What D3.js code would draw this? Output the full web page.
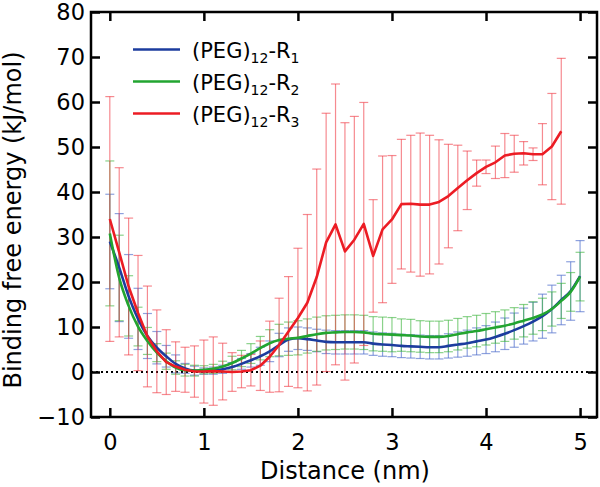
<!DOCTYPE html>
<html><head><meta charset="utf-8">
<script src="https://cdn.jsdelivr.net/npm/d3@7"></script>
<style>
html,body{margin:0;padding:0;background:#fff;}
svg{display:block;}
text{font-family:"DejaVu Sans",sans-serif;fill:#000;}
</style></head>
<body>
<svg id="chart" width="600" height="487"></svg>
<script>
// ---- data ----
const distance = [0.0,0.1,0.2,0.3,0.4,0.5,0.6,0.7,0.8,0.9,1.0,1.1,1.2,1.3,1.4,1.5,1.6,1.7,1.8,1.9,2.0,2.1,2.2,2.3,2.4,2.5,2.6,2.7,2.8,2.9,3.0,3.1,3.2,3.3,3.4,3.5,3.6,3.7,3.8,3.9,4.0,4.1,4.2,4.3,4.4,4.5,4.6,4.7,4.8,4.9,5.0];

const r1Mean = [29.0,23.2,16.8,11.8,8.0,5.4,3.5,1.8,0.8,0.3,0.2,0.3,0.6,1.1,1.8,2.6,3.5,4.6,6.0,7.2,7.5,7.3,7.0,6.7,6.6,6.6,6.6,6.6,6.3,6.1,6.0,5.8,5.7,5.6,5.5,5.5,5.8,6.1,6.4,6.8,7.2,7.8,8.5,9.3,10.2,11.2,12.4,14.0,16.0,18.0,21.3];
const r1Err  = [10.5,12.0,9.3,6.8,5.0,3.6,2.4,2.0,1.1,1.0,0.7,0.8,0.9,1.0,1.2,1.5,2.0,2.3,2.6,2.6,2.5,2.5,2.5,2.6,2.6,2.6,2.6,2.6,2.6,2.6,2.6,2.6,2.6,2.6,2.6,2.6,2.7,2.8,2.9,3.0,3.1,3.3,3.5,3.8,4.0,4.3,4.9,5.3,5.5,6.5,7.9];

const r2Mean = [30.8,20.9,14.7,10.1,6.9,4.3,2.4,1.0,0.4,0.3,0.5,0.7,1.2,2.0,3.0,4.1,5.3,6.4,7.1,7.4,7.6,8.0,8.4,8.7,8.8,8.9,8.9,8.8,8.5,8.4,8.3,8.2,8.1,7.9,7.8,7.8,8.0,8.4,8.8,9.1,9.5,9.9,10.3,10.8,11.4,12.0,12.8,14.0,15.8,17.8,21.2];
const r2Err  = [16.1,9.5,6.7,4.3,3.0,2.0,1.8,1.5,1.3,1.2,0.9,1.0,1.2,1.5,1.8,2.2,2.6,3.0,3.5,3.7,3.8,3.8,3.8,3.8,3.8,3.8,3.8,3.8,3.8,3.8,3.8,3.6,3.6,3.5,3.5,3.5,3.5,3.5,3.5,3.5,3.5,3.5,3.5,3.5,3.6,3.6,3.6,3.8,3.9,4.3,5.4];

const r3Mean = [34.0,26.6,19.0,13.1,7.9,4.6,2.2,1.2,0.5,0.1,0.1,0.2,0.1,0.0,0.1,0.4,1.4,3.4,6.0,9.0,12.0,15.4,21.1,28.8,32.8,26.8,29.4,32.9,25.8,31.7,33.9,37.3,37.4,37.2,37.2,37.8,39.1,40.9,42.6,44.2,45.6,46.6,48.1,48.5,48.6,48.4,48.4,50.1,53.5];
const r3Err  = [27.2,18.8,15.2,12.8,11.2,9.2,7.2,5.5,5.0,5.7,7.0,7.6,6.3,4.3,3.6,3.5,5.5,7.9,10.4,12.2,15.5,19.6,24.0,28.7,31.2,28.6,27.4,27.0,12.5,16.3,14.2,14.4,15.2,15.9,15.4,13.8,11.5,9.5,6.5,2.9,1.5,3.6,4.9,4.1,2.6,1.4,6.8,11.8,16.2];

const seriesNames = ["R1","R2","R3"];
const xTicks = [0,1,2,3,4,5];
const yTicks = [-10,0,10,20,30,40,50,60,70,80];

// ---- layout ----
const svg = d3.select("#chart");
const L = 91, R = 597, T = 12, B = 417;
const x = d3.scaleLinear().domain([-0.2, 5.18]).range([L, R]);
const y = d3.scaleLinear().domain([-10, 80]).range([B, T]);

const series = [
  {name:seriesNames[0], mean:r1Mean, err:r1Err, line:"#1c3c9e", bar:"rgba(80,110,205,0.65)", curve:d3.curveMonotoneX},
  {name:seriesNames[1], mean:r2Mean, err:r2Err, line:"#22a530", bar:"rgba(60,180,60,0.6)", curve:d3.curveMonotoneX},
  {name:seriesNames[2], mean:r3Mean, err:r3Err, line:"#ec1c24", bar:"rgba(240,60,70,0.6)", curve:d3.curveLinear}
];

// zero dotted line
svg.append("line")
  .attr("x1", L).attr("x2", R).attr("y1", y(0)).attr("y2", y(0))
  .attr("stroke", "#000").attr("stroke-width", 2).attr("stroke-dasharray", "2,3");

// error bars
const cap = 4.5;
series.forEach(s => {
  const g = svg.append("g").attr("stroke", s.bar).attr("stroke-width", 1.2).attr("fill","none");
  s.mean.forEach((m, i) => {
    const cx = x(distance[i]);
    const hi = y(m + s.err[i]), lo = y(m - s.err[i]);
    g.append("line").attr("x1", cx).attr("x2", cx).attr("y1", hi).attr("y2", lo);
    g.append("line").attr("x1", cx - cap).attr("x2", cx + cap).attr("y1", hi).attr("y2", hi);
    g.append("line").attr("x1", cx - cap).attr("x2", cx + cap).attr("y1", lo).attr("y2", lo);
  });
});

// lines
series.forEach(s => {
  const line = d3.line().x((d, i) => x(distance[i])).y(d => y(d)).curve(s.curve);
  svg.append("path").datum(s.mean)
    .attr("d", line).attr("fill", "none")
    .attr("stroke", s.line).attr("stroke-width", 2.6).attr("stroke-linejoin","round");
});

// axes (inward ticks on all sides)
const fs = 22.5;
const ax = (g) => { g.select(".domain").remove(); g.selectAll(".tick line").attr("stroke","#000").attr("stroke-width",2.5); };
svg.append("g").attr("transform", `translate(0,${B})`)
  .call(d3.axisBottom(x).tickValues(xTicks).tickFormat(d3.format("d")).tickSize(-9).tickPadding(17))
  .call(ax).selectAll("text").attr("font-size", fs).style("font-family","DejaVu Sans");
svg.append("g").attr("transform", `translate(0,${T})`)
  .call(d3.axisTop(x).tickValues(xTicks).tickFormat("").tickSize(-9))
  .call(ax);
svg.append("g").attr("transform", `translate(${L},0)`)
  .call(d3.axisLeft(y).tickValues(yTicks).tickFormat(d3.format("d")).tickSize(-9).tickPadding(6))
  .call(ax).selectAll("text").attr("font-size", fs).style("font-family","DejaVu Sans");
svg.append("g").attr("transform", `translate(${R},0)`)
  .call(d3.axisRight(y).tickValues(yTicks).tickFormat("").tickSize(-9))
  .call(ax);

// frame
svg.append("rect").attr("x", L).attr("y", T).attr("width", R - L).attr("height", B - T)
  .attr("fill", "none").attr("stroke", "#000").attr("stroke-width", 2.5);

// axis titles
svg.append("text").attr("x", (L + R) / 2 + 1).attr("y", 479).attr("text-anchor", "middle")
  .attr("font-size", 24).text("Distance (nm)");
svg.append("text").attr("transform", `translate(21,220) rotate(-90)`)
  .attr("text-anchor", "middle").attr("font-size", 24).text("Binding free energy (kJ/mol)");

// legend
const legY = [49.5, 81.5, 113.5];
series.forEach((s, i) => {
  svg.append("line").attr("x1", 133).attr("x2", 180).attr("y1", legY[i]).attr("y2", legY[i])
    .attr("stroke", s.line).attr("stroke-width", 2.6);
  const t = svg.append("text").attr("x", 192).attr("y", legY[i] + 8.5).attr("font-size", 21);
  t.append("tspan").text("(PEG)");
  t.append("tspan").attr("font-size", 14).attr("dy", 5).text("12");
  t.append("tspan").attr("dy", -5).text("-R");
  t.append("tspan").attr("font-size", 14).attr("dy", 5).text(s.name.slice(1));
});
</script>
</body></html>
